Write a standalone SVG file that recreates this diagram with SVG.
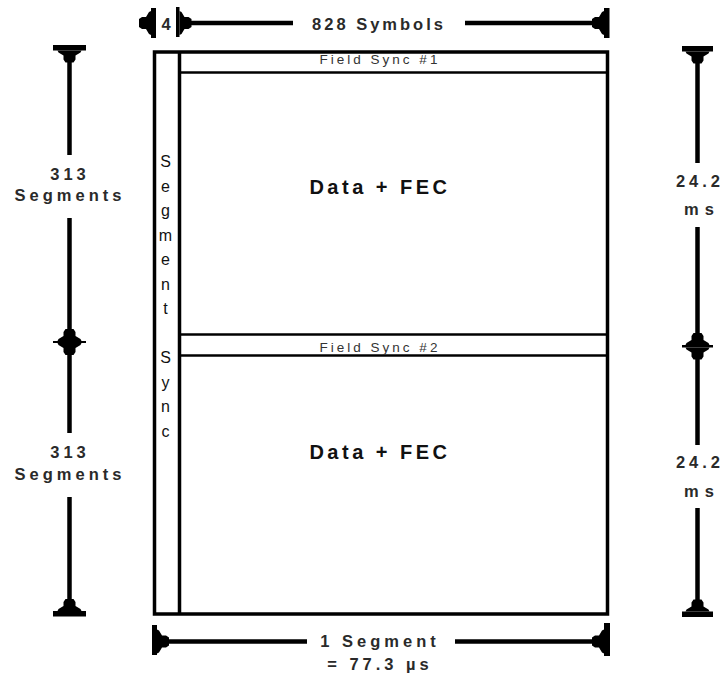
<svg xmlns="http://www.w3.org/2000/svg" xmlns:xlink="http://www.w3.org/1999/xlink" width="727" height="675" viewBox="0 0 727 675">
<style>
.frame{fill:none;stroke:#000;stroke-width:3.5}
.thin{stroke:#000;stroke-width:2.5}
.dim{stroke:#000;stroke-width:4.5;fill:none}
.bar{fill:#000}
.lbl{font-family:"Liberation Sans",Arial,sans-serif;font-size:16.5px;font-weight:bold;fill:#2a2a2a;letter-spacing:4px;text-anchor:middle}
.big{font-family:"Liberation Sans",Arial,sans-serif;font-size:20px;font-weight:bold;fill:#111;letter-spacing:3.5px;text-anchor:middle}
.fs{font-family:"Liberation Sans",Arial,sans-serif;font-size:13.5px;fill:#333;letter-spacing:3px;text-anchor:middle}
.ss{font-family:"Liberation Sans",Arial,sans-serif;font-size:16px;fill:#111;text-anchor:middle}
</style>
<defs>
<path id="ah" d="M-12,0 L12,0 L11,2 L6,5 L6,9 L4,12 L-4,12 L-6,9 L-6,5 L-11,2 Z" fill="#000"/>
</defs>
<rect width="727" height="675" fill="#fff"/>

<g id="field-sync-1">
<text class="fs" x="380" y="64">Field Sync #1</text>
<line class="thin" x1="179" y1="72.5" x2="607" y2="72.5"/>
</g>

<g id="frame">
<rect class="frame" x="154.5" y="52" width="453" height="562"/>
<line class="frame" x1="179.5" y1="52" x2="179.5" y2="614"/>
</g>

<g id="segment-sync">
<text class="ss" x="165.5" y="167">S</text>
<text class="ss" x="165.5" y="191.5">e</text>
<text class="ss" x="165.5" y="216">g</text>
<text class="ss" x="165.5" y="240.5">m</text>
<text class="ss" x="165.5" y="265">e</text>
<text class="ss" x="165.5" y="289.5">n</text>
<text class="ss" x="165.5" y="314">t</text>
<text class="ss" x="165.5" y="363">S</text>
<text class="ss" x="165.5" y="387.5">y</text>
<text class="ss" x="165.5" y="412">n</text>
<text class="ss" x="165.5" y="436.5">c</text>
</g>

<g id="data-fec-1">
<text class="big" x="380" y="194">Data + FEC</text>
</g>

<g id="field-sync-2">
<line class="thin" x1="179" y1="334.5" x2="607" y2="334.5"/>
<line class="thin" x1="179" y1="355.5" x2="607" y2="355.5"/>
<text class="fs" x="380" y="352">Field Sync #2</text>
</g>

<g id="data-fec-2">
<text class="big" x="380" y="459">Data + FEC</text>
</g>

<g id="connectors">
<!-- top: 4 and 828 Symbols -->
<rect class="bar" x="151" y="8" width="5" height="30"/>
<use xlink:href="#ah" transform="translate(151,23) rotate(90)"/>
<rect class="bar" x="176" y="7" width="3.5" height="30"/>
<use xlink:href="#ah" transform="translate(179.5,23) rotate(-90)"/>
<line class="dim" x1="190" y1="23" x2="293" y2="23"/>
<line class="dim" x1="465" y1="23" x2="594" y2="23"/>
<use xlink:href="#ah" transform="translate(604,23) rotate(90)"/>
<rect class="bar" x="604" y="8" width="5.5" height="30"/>

<!-- bottom: 1 Segment -->
<rect class="bar" x="152" y="625" width="5" height="30"/>
<use xlink:href="#ah" transform="translate(157,641.5) rotate(-90)"/>
<line class="dim" x1="166" y1="641.5" x2="307" y2="641.5"/>
<line class="dim" x1="455" y1="641.5" x2="594" y2="641.5"/>
<use xlink:href="#ah" transform="translate(604,641.5) rotate(90)"/>
<rect class="bar" x="604" y="623" width="6" height="33"/>

<!-- left: 313 Segments x2 -->
<rect class="bar" x="53" y="45" width="33" height="5.5"/>
<use xlink:href="#ah" transform="translate(69.5,50.5)"/>
<line class="dim" x1="69.5" y1="60" x2="69.5" y2="155"/>
<line class="dim" x1="69.5" y1="218" x2="69.5" y2="331"/>
<use xlink:href="#ah" transform="translate(69.5,341) rotate(180)"/>
<rect class="bar" x="53" y="341" width="33" height="2"/>
<use xlink:href="#ah" transform="translate(69.5,343)"/>
<line class="dim" x1="69.5" y1="353" x2="69.5" y2="433"/>
<line class="dim" x1="69.5" y1="497" x2="69.5" y2="601"/>
<use xlink:href="#ah" transform="translate(69.5,611) rotate(180)"/>
<rect class="bar" x="53" y="611" width="33" height="5.5"/>

<!-- right: 24.2 ms x2 -->
<rect class="bar" x="682" y="46" width="31" height="5.5"/>
<use xlink:href="#ah" transform="translate(697.5,51.5)"/>
<line class="dim" x1="697.5" y1="61" x2="697.5" y2="163"/>
<line class="dim" x1="697.5" y1="227" x2="697.5" y2="334"/>
<use xlink:href="#ah" transform="translate(697.5,345) rotate(180)"/>
<rect class="bar" x="682" y="345" width="31" height="2.5"/>
<use xlink:href="#ah" transform="translate(697.5,347.5)"/>
<line class="dim" x1="697.5" y1="357" x2="697.5" y2="445"/>
<line class="dim" x1="697.5" y1="508" x2="697.5" y2="601"/>
<use xlink:href="#ah" transform="translate(697.5,611.5) rotate(180)"/>
<rect class="bar" x="682" y="611.5" width="31" height="5.5"/>
</g>

<g id="labels">
<text class="lbl" x="166" y="30" style="letter-spacing:0">4</text>
<text class="lbl" x="379" y="30" style="letter-spacing:3px">828 Symbols</text>
<text class="lbl" x="70" y="180">313</text>
<text class="lbl" x="70" y="201">Segments</text>
<text class="lbl" x="70" y="458">313</text>
<text class="lbl" x="70" y="480">Segments</text>
<text class="lbl" x="700" y="187">24.2</text>
<text class="lbl" x="702" y="215" style="letter-spacing:6px">ms</text>
<text class="lbl" x="700" y="468">24.2</text>
<text class="lbl" x="702" y="497" style="letter-spacing:6px">ms</text>
<text class="lbl" x="380" y="647">1 Segment</text>
<text class="lbl" x="380" y="670">= 77.3 µs</text>
</g>
</svg>
